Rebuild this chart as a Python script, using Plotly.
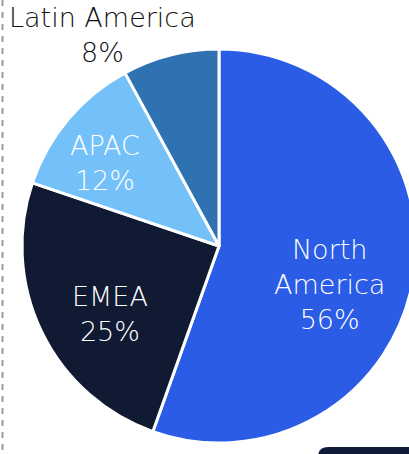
import plotly.graph_objects as go

# Regional revenue share
regions = ["North America", "EMEA", "APAC", "Latin America"]
shares = [56, 25, 12, 8]
colors = ["#2a5ce6", "#111a33", "#74c1fa", "#2e72b2"]
label_colors = ["#ffffff", "#ffffff", "#ffffff", "#111111"]
# label anchors in pixels (centre of each text block)
label_pos = [(329, 284), (110, 314), (105, 163), (102, 35)]

FONT = "DejaVu Sans"
FONT_SIZE = 27
FONT_WEIGHT = 200

W, H = 438, 454
M_T, M_B = 49, 11
PLOT_H = H - M_T - M_B


def px_x(x):
    return x / W


def px_y(y):
    return (H - M_B - y) / PLOT_H


fig = go.Figure(
    go.Pie(
        labels=regions,
        values=shares,
        textinfo="none",
        hovertemplate="%{label}: %{value}%<extra></extra>",
        automargin=False,
        sort=False,
        direction="clockwise",
        rotation=0,
        marker=dict(colors=colors, line=dict(color="#ffffff", width=3)),
        showlegend=False,
    )
)

# slice labels: name (wrapped for the long inside one) and share
for name, val, col, (lx, ly) in zip(regions, shares, label_colors, label_pos):
    shown = name.replace(" ", "<br>") if name == "North America" else name
    fig.add_annotation(
        xref="paper", yref="paper",
        x=px_x(lx), y=px_y(ly),
        xanchor="center", yanchor="middle",
        text=f"{shown}<br>{val}%",
        showarrow=False,
        font=dict(family=FONT, size=FONT_SIZE, color=col, weight=FONT_WEIGHT),
    )

# dashed guide on the left edge
fig.add_shape(
    type="line",
    xref="paper", yref="paper",
    x0=px_x(2.5), x1=px_x(2.5), y0=px_y(0), y1=px_y(H),
    line=dict(color="#9a9a9a", width=2, dash="6px,6px"),
)

# dark panel peeking in at the bottom right
x0, y0, x1, y1, rad = 318, 447, W + 5, H + 20, 10
fig.add_shape(
    type="path",
    xref="paper", yref="paper",
    path=(
        f"M {px_x(x0)},{px_y(y1)} L {px_x(x0)},{px_y(y0 + rad)} "
        f"Q {px_x(x0)},{px_y(y0)} {px_x(x0 + rad)},{px_y(y0)} "
        f"L {px_x(x1)},{px_y(y0)} L {px_x(x1)},{px_y(y1)} Z"
    ),
    fillcolor="#0e1b3a",
    line=dict(width=0),
)

fig.update_layout(
    width=W,
    height=H,
    margin=dict(l=0, r=0, t=M_T, b=M_B, autoexpand=False),
    paper_bgcolor="#ffffff",
    plot_bgcolor="#ffffff",
)

fig.write_html(
    "out.html",
    config={"displayModeBar": False},
    post_script=(
        "document.documentElement.style.overflow='hidden';"
        "document.body.style.overflow='hidden';"
        "document.body.style.margin='0';"
    ),
)
